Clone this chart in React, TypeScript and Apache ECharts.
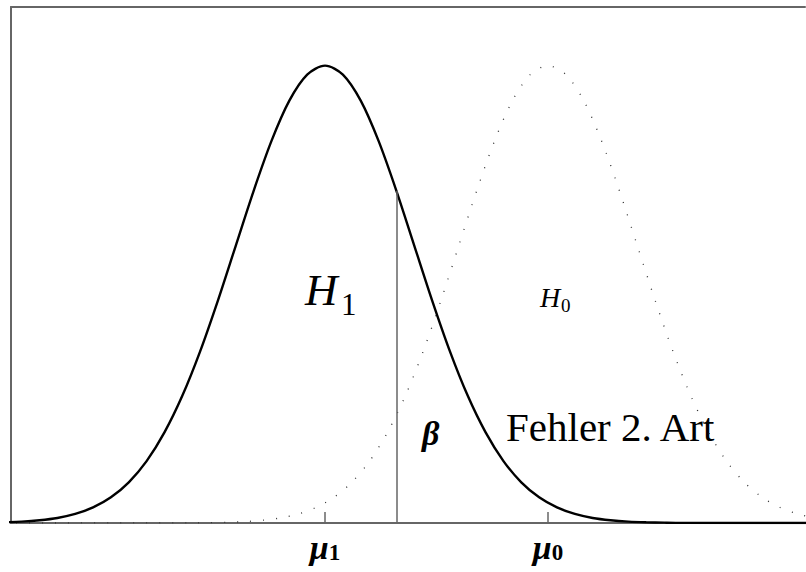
import React, { useEffect, useRef } from "react";
import * as echarts from "echarts";

// Axis extent (standard-normal units) and the two means
const X_MIN = -3.52;
const X_MAX = 5.38;
const Y_MAX = 0.45;
const MU1 = 0;
const MU0 = 2.5;
const CRITICAL = 0.8;

// Density profile of the bell curve, sampled at offsets from its mean
const OFFSETS = [
  -6.4, -4.0, -3.8, -3.6, -3.4, -3.2, -3.0, -2.8, -2.6, -2.4, -2.2, -2.0,
  -1.8, -1.6, -1.4, -1.2, -1.0, -0.8, -0.6, -0.4, -0.2, 0, 0.2, 0.4, 0.6,
  0.8, 1.0, 1.2, 1.4, 1.6, 1.8, 2.0, 2.2, 2.4, 2.6, 2.8, 3.0, 3.2, 3.4,
  3.6, 3.8, 4.0, 6.4,
];
const DENSITY = [
  0, 0.0001, 0.0003, 0.0006, 0.0012, 0.0024, 0.0044, 0.0079, 0.0136,
  0.0224, 0.0355, 0.054, 0.079, 0.1109, 0.1497, 0.1942, 0.242, 0.2897,
  0.3332, 0.3683, 0.391, 0.3989, 0.391, 0.3683, 0.3332, 0.2897, 0.242,
  0.1942, 0.1497, 0.1109, 0.079, 0.054, 0.0355, 0.0224, 0.0136, 0.0079,
  0.0044, 0.0024, 0.0012, 0.0006, 0.0003, 0.0001, 0,
];

const TICK_VALUES = [MU1, MU0];
const TICK_SUBS = ["1", "0"];

const SERIF = "'Liberation Serif', 'DejaVu Serif', serif";
const FRAME = "#666666";

export default function App() {
  const ref = useRef<HTMLDivElement>(null);

  useEffect(() => {
    if (!ref.current) return;
    const chart = echarts.init(ref.current, null, { renderer: "svg" });

    const h1 = OFFSETS.map((o, i) => [MU1 + o, DENSITY[i]]);
    const h0 = OFFSETS.map((o, i) => [MU0 + o, DENSITY[i]]);
    const critTop = DENSITY[OFFSETS.indexOf(CRITICAL - MU1)];

    chart.setOption({
      animation: false,
      backgroundColor: "#ffffff",
      grid: { left: 11, right: 1, top: 7, bottom: 49 },
      xAxis: [
        {
          type: "value",
          min: X_MIN,
          max: X_MAX,
          position: "bottom",
          splitLine: { show: false },
          axisLine: { show: true, onZero: false, lineStyle: { color: FRAME, width: 2 } },
          axisTick: {
            show: true,
            inside: true,
            length: 11,
            customValues: TICK_VALUES,
            lineStyle: { color: FRAME, width: 1.5 },
          },
          axisLabel: {
            show: true,
            customValues: TICK_VALUES,
            margin: 7,
            formatter: (v: number) =>
              `{m|μ}{s|${TICK_SUBS[TICK_VALUES.indexOf(v)] ?? ""}}`,
            rich: {
              m: {
                fontFamily: SERIF,
                fontSize: 34,
                fontWeight: "bold",
                fontStyle: "italic",
                color: "#000",
                lineHeight: 34,
              },
              s: {
                fontFamily: SERIF,
                fontSize: 23,
                fontWeight: "bold",
                color: "#000",
                lineHeight: 18,
                verticalAlign: "bottom",
              },
            },
          },
        },
        {
          type: "value",
          min: X_MIN,
          max: X_MAX,
          position: "top",
          splitLine: { show: false },
          axisLine: { show: true, onZero: false, lineStyle: { color: FRAME, width: 2 } },
          axisTick: { show: false },
          axisLabel: { show: false },
        },
      ],
      yAxis: {
        type: "value",
        min: 0,
        max: Y_MAX,
        position: "left",
        splitLine: { show: false },
        axisLine: { show: true, onZero: false, lineStyle: { color: FRAME, width: 2 } },
        axisTick: { show: false },
        axisLabel: { show: false },
      },
      series: [
        {
          name: "H0",
          type: "line",
          data: h0,
          showSymbol: false,
          smooth: 0.3,
          silent: true,
          z: 2,
          lineStyle: { color: "#333333", width: 1.3, type: [1, 12], cap: "butt" },
        },
        {
          name: "H1",
          type: "line",
          data: h1,
          showSymbol: false,
          smooth: 0.3,
          silent: true,
          z: 3,
          lineStyle: { color: "#000000", width: 2.4 },
          markLine: {
            symbol: "none",
            silent: true,
            label: { show: false },
            lineStyle: { color: FRAME, width: 1.5, type: "solid" },
            data: [[{ coord: [CRITICAL, 0] }, { coord: [CRITICAL, critTop] }]],
          },
        },
      ],
      graphic: [
        {
          type: "text",
          x: 305,
          y: 290,
          style: { text: "H", font: `italic 45px ${SERIF}`, fill: "#000", verticalAlign: "middle", align: "left" },
        },
        {
          type: "text",
          x: 341,
          y: 304,
          style: { text: "1", font: `31px ${SERIF}`, fill: "#000", verticalAlign: "middle", align: "left" },
        },
        {
          type: "text",
          x: 540,
          y: 297,
          style: { text: "H", font: `italic 28px ${SERIF}`, fill: "#000", verticalAlign: "middle", align: "left" },
        },
        {
          type: "text",
          x: 561,
          y: 305,
          style: { text: "0", font: `19px ${SERIF}`, fill: "#000", verticalAlign: "middle", align: "left" },
        },
        {
          type: "text",
          x: 422,
          y: 433,
          style: { text: "β", font: `italic bold 34px ${SERIF}`, fill: "#000", verticalAlign: "middle", align: "left" },
        },
        {
          type: "text",
          x: 506,
          y: 427,
          style: { text: "Fehler 2. Art", font: `41px ${SERIF}`, fill: "#000", verticalAlign: "middle", align: "left" },
        },
      ],
    });

    return () => chart.dispose();
  }, []);

  return (
    <div
      ref={ref}
      style={{ position: "fixed", left: 0, top: 0, width: 806, height: 572, background: "#fff" }}
    />
  );
}
